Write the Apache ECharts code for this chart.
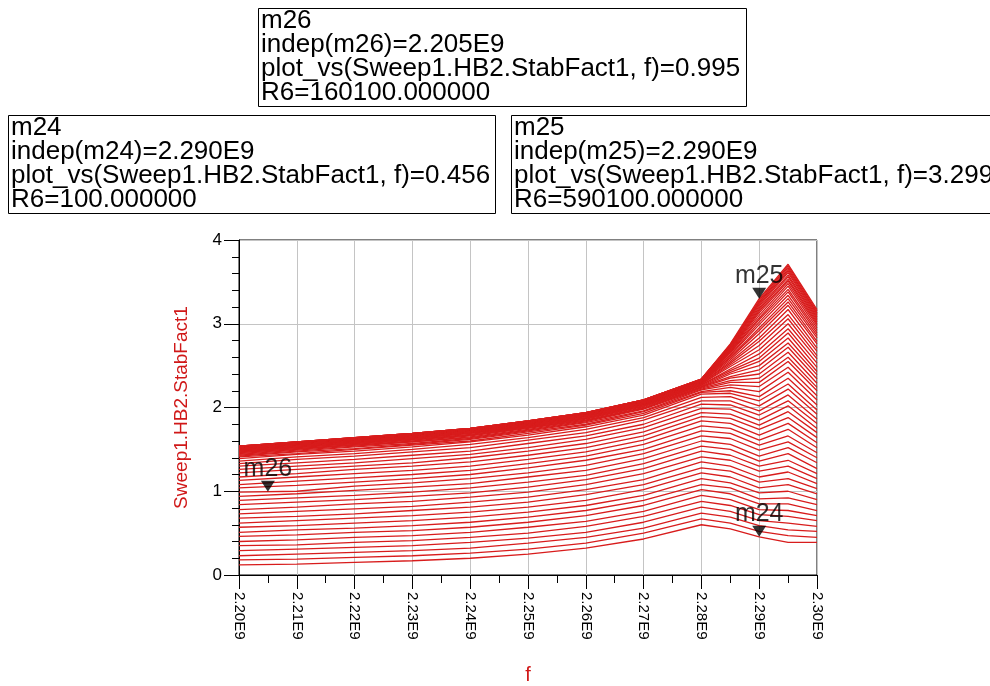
<!DOCTYPE html>
<html>
<head>
<meta charset="utf-8">
<script src="https://cdn.jsdelivr.net/npm/echarts@6/dist/echarts.min.js"></script>
<style>
  html, body { margin: 0; padding: 0; background: #fff; }
  #chart { width: 990px; height: 686px; }
</style>
</head>
<body>
<div id="chart"></div>
<script>
// Frequency points of the harmonic-balance sweep (Hz)
const freqHz = [2.20e9, 2.21e9, 2.22e9, 2.23e9, 2.24e9, 2.25e9, 2.26e9, 2.27e9, 2.28e9, 2.285e9, 2.29e9, 2.295e9, 2.30e9];

// Swept resistor R6 (ohm), one curve per value
const r6Values = [
  100, 10100, 20100, 30100, 40100, 50100, 60100, 70100, 80100, 90100,
  100100, 110100, 120100, 130100, 140100, 150100, 160100, 170100, 180100, 190100,
  200100, 210100, 220100, 230100, 240100, 250100, 260100, 270100, 280100, 290100,
  300100, 310100, 320100, 330100, 340100, 350100, 360100, 370100, 380100, 390100,
  400100, 410100, 420100, 430100, 440100, 450100, 460100, 470100, 480100, 490100,
  500100, 510100, 520100, 530100, 540100, 550100, 560100, 570100, 580100, 590100
];

// Sweep1.HB2.StabFact1 for each R6 (rows) at each frequency point (columns)
const stabFact = [
  [0.12,0.13,0.15,0.17,0.20,0.25,0.32,0.43,0.60,0.55,0.456,0.39,0.39],
  [0.18,0.19,0.21,0.23,0.26,0.31,0.38,0.50,0.67,0.62,0.52,0.47,0.45],
  [0.23,0.25,0.27,0.29,0.32,0.38,0.45,0.56,0.74,0.69,0.59,0.54,0.52],
  [0.29,0.31,0.33,0.35,0.39,0.44,0.51,0.63,0.81,0.76,0.65,0.62,0.58],
  [0.35,0.36,0.39,0.41,0.45,0.50,0.58,0.70,0.88,0.83,0.72,0.70,0.65],
  [0.40,0.42,0.45,0.47,0.51,0.57,0.64,0.76,0.95,0.90,0.78,0.77,0.71],
  [0.46,0.48,0.51,0.53,0.57,0.63,0.71,0.83,1.02,0.97,0.85,0.85,0.77],
  [0.51,0.54,0.56,0.59,0.63,0.69,0.77,0.89,1.08,1.04,0.91,0.92,0.84],
  [0.57,0.59,0.62,0.65,0.69,0.75,0.83,0.95,1.15,1.10,0.98,1.00,0.90],
  [0.62,0.65,0.68,0.71,0.75,0.81,0.89,1.02,1.22,1.17,1.04,1.08,0.97],
  [0.68,0.70,0.73,0.77,0.81,0.87,0.96,1.08,1.28,1.24,1.11,1.15,1.03],
  [0.73,0.76,0.79,0.82,0.87,0.93,1.02,1.14,1.35,1.30,1.17,1.23,1.09],
  [0.78,0.81,0.85,0.88,0.93,0.99,1.08,1.21,1.41,1.37,1.24,1.30,1.15],
  [0.84,0.87,0.90,0.94,0.98,1.05,1.14,1.27,1.48,1.43,1.30,1.37,1.21],
  [0.89,0.92,0.95,0.99,1.04,1.11,1.19,1.33,1.54,1.50,1.36,1.45,1.27],
  [0.94,0.97,1.01,1.05,1.09,1.17,1.25,1.39,1.60,1.56,1.42,1.52,1.34],
  [0.99,1.00,1.06,1.10,1.15,1.22,1.31,1.45,1.66,1.63,1.49,1.59,1.40],
  [1.04,1.07,1.11,1.15,1.20,1.28,1.37,1.50,1.72,1.69,1.55,1.66,1.46],
  [1.08,1.12,1.16,1.20,1.25,1.33,1.42,1.56,1.78,1.75,1.61,1.74,1.52],
  [1.13,1.17,1.21,1.25,1.30,1.38,1.47,1.61,1.84,1.81,1.67,1.81,1.58],
  [1.17,1.21,1.26,1.30,1.35,1.43,1.52,1.66,1.89,1.87,1.74,1.88,1.64],
  [1.22,1.26,1.30,1.34,1.40,1.48,1.57,1.71,1.94,1.92,1.79,1.95,1.70],
  [1.26,1.30,1.34,1.39,1.44,1.52,1.62,1.76,1.99,1.98,1.85,2.02,1.75],
  [1.30,1.34,1.38,1.43,1.48,1.57,1.66,1.80,2.04,2.03,1.91,2.08,1.81],
  [1.33,1.38,1.42,1.47,1.52,1.61,1.70,1.85,2.08,2.08,1.96,2.15,1.86],
  [1.36,1.41,1.45,1.50,1.56,1.64,1.74,1.88,2.12,2.13,2.02,2.22,1.92],
  [1.39,1.44,1.48,1.53,1.59,1.67,1.77,1.91,2.16,2.17,2.08,2.28,1.97],
  [1.41,1.45,1.50,1.55,1.60,1.69,1.79,1.93,2.18,2.20,2.13,2.35,2.03],
  [1.42,1.47,1.51,1.56,1.62,1.71,1.80,1.95,2.19,2.24,2.19,2.42,2.09],
  [1.43,1.48,1.53,1.57,1.63,1.72,1.82,1.96,2.21,2.27,2.25,2.48,2.14],
  [1.44,1.49,1.54,1.59,1.64,1.73,1.83,1.98,2.22,2.30,2.30,2.55,2.20],
  [1.45,1.50,1.55,1.59,1.65,1.74,1.84,1.99,2.23,2.32,2.35,2.60,2.24],
  [1.46,1.51,1.55,1.60,1.66,1.75,1.85,1.99,2.24,2.35,2.40,2.66,2.29],
  [1.46,1.51,1.56,1.61,1.67,1.76,1.85,2.00,2.25,2.37,2.45,2.72,2.34],
  [1.47,1.52,1.57,1.62,1.67,1.76,1.86,2.01,2.25,2.40,2.50,2.77,2.39],
  [1.48,1.52,1.57,1.62,1.68,1.77,1.87,2.02,2.26,2.42,2.55,2.83,2.43],
  [1.48,1.53,1.58,1.63,1.69,1.77,1.87,2.02,2.27,2.44,2.59,2.89,2.48],
  [1.49,1.53,1.58,1.63,1.69,1.78,1.88,2.03,2.27,2.46,2.64,2.94,2.53],
  [1.49,1.54,1.59,1.64,1.70,1.78,1.88,2.03,2.28,2.49,2.69,3.00,2.58],
  [1.49,1.54,1.59,1.64,1.70,1.79,1.89,2.04,2.28,2.51,2.74,3.06,2.62],
  [1.50,1.55,1.60,1.65,1.71,1.79,1.89,2.04,2.29,2.53,2.79,3.11,2.67],
  [1.50,1.55,1.60,1.65,1.71,1.80,1.90,2.05,2.29,2.55,2.83,3.17,2.71],
  [1.51,1.55,1.60,1.65,1.71,1.80,1.90,2.05,2.30,2.57,2.88,3.22,2.76],
  [1.51,1.56,1.61,1.66,1.72,1.81,1.90,2.05,2.30,2.59,2.92,3.26,2.79],
  [1.51,1.56,1.61,1.66,1.72,1.81,1.91,2.06,2.31,2.60,2.95,3.30,2.83],
  [1.51,1.56,1.61,1.66,1.72,1.81,1.91,2.06,2.31,2.62,2.99,3.34,2.86],
  [1.52,1.57,1.62,1.67,1.73,1.81,1.91,2.06,2.31,2.63,3.02,3.38,2.89],
  [1.52,1.57,1.62,1.67,1.73,1.82,1.92,2.07,2.32,2.65,3.05,3.41,2.92],
  [1.52,1.57,1.62,1.67,1.73,1.82,1.92,2.07,2.32,2.66,3.07,3.45,2.95],
  [1.53,1.58,1.63,1.67,1.73,1.82,1.92,2.07,2.32,2.67,3.10,3.48,2.98],
  [1.53,1.58,1.63,1.68,1.74,1.83,1.93,2.08,2.33,2.68,3.13,3.51,3.00],
  [1.53,1.58,1.63,1.68,1.74,1.83,1.93,2.08,2.33,2.69,3.15,3.53,3.02],
  [1.53,1.58,1.63,1.68,1.74,1.83,1.93,2.08,2.33,2.70,3.17,3.56,3.04],
  [1.53,1.58,1.63,1.68,1.74,1.83,1.93,2.08,2.33,2.71,3.19,3.58,3.06],
  [1.53,1.58,1.63,1.68,1.74,1.83,1.93,2.08,2.33,2.72,3.21,3.61,3.08],
  [1.54,1.59,1.64,1.69,1.75,1.84,1.94,2.09,2.33,2.73,3.23,3.63,3.10],
  [1.54,1.59,1.64,1.69,1.75,1.84,1.94,2.09,2.34,2.74,3.25,3.65,3.12],
  [1.54,1.59,1.64,1.69,1.75,1.84,1.94,2.09,2.34,2.74,3.26,3.67,3.13],
  [1.54,1.59,1.64,1.69,1.75,1.84,1.94,2.09,2.34,2.75,3.28,3.69,3.15],
  [1.54,1.59,1.64,1.69,1.75,1.84,1.94,2.09,2.34,2.76,3.299,3.71,3.17]
];

// Markers placed on the traces
const markerNames = ['m24', 'm25', 'm26'];
const markerFreq = [2.290e9, 2.290e9, 2.205e9];
const markerValue = [0.456, 3.299, 0.995];
const markerR6 = [100, 590100, 160100];

// Axis ticks
const xTickMin = 2.20e9, xTickMax = 2.30e9, xTickStep = 0.01e9;
const yTickMin = 0, yTickMax = 4, yTickStep = 1;

const TRACE_RED = '#d81c1c';
const AXIS_RED = '#d01818';
const FONT = '"Liberation Sans", Arial, sans-serif';

const traceSeries = stabFact.map((row, i) => ({
  type: 'line',
  name: 'R6=' + r6Values[i],
  data: row.map((v, j) => [freqHz[j], v]),
  showSymbol: false,
  symbol: 'none',
  silent: true,
  lineStyle: { color: TRACE_RED, width: 1.3 },
  z: 2
}));

// Downward triangle whose tip sits on the marked point, name above it
const markerSeries = {
  type: 'scatter',
  data: markerNames.map((n, k) => ({ name: n, value: [markerFreq[k], markerValue[k]] })),
  symbol: 'triangle',
  symbolSize: [14, 11],
  symbolRotate: 180,
  symbolOffset: [0, -5.5],
  itemStyle: { color: '#000' },
  label: {
    show: true, position: 'top', distance: 0, offset: [0, 1],
    formatter: '{b}', color: '#000',
    fontFamily: FONT, fontSize: 25
  },
  silent: true,
  z: 10
};

// Marker readout boxes
function readoutLines(k) {
  return [
    markerNames[k],
    'indep(' + markerNames[k] + ')=' + (markerFreq[k] / 1e9).toFixed(3) + 'E9',
    'plot_vs(Sweep1.HB2.StabFact1, f)=' + markerValue[k].toFixed(3),
    'R6=' + markerR6[k].toFixed(6)
  ].join('\n');
}
const boxes = [
  { k: 2, x: 258, y: 8, w: 488 },
  { k: 0, x: 8, y: 115, w: 487 },
  { k: 1, x: 511, y: 115, w: 520 }
];
const graphics = [];
boxes.forEach(b => {
  graphics.push({
    type: 'rect', silent: true,
    shape: { x: b.x + 0.5, y: b.y + 0.5, width: b.w, height: 98 },
    style: { fill: '#fff', stroke: '#000', lineWidth: 1 }
  });
  graphics.push({
    type: 'text', silent: true, x: b.x + 3, y: b.y + 1,
    style: {
      text: readoutLines(b.k), fill: '#000',
      font: '26px ' + FONT, lineHeight: 24,
      verticalAlign: 'top'
    }
  });
});

const chart = echarts.init(document.getElementById('chart'), null, { renderer: 'canvas' });
chart.setOption({
  animation: false,
  backgroundColor: '#fff',
  grid: { left: 239, right: 173, top: 240, bottom: 106, show: true, borderColor: '#000', borderWidth: 1, backgroundColor: 'transparent' },
  xAxis: {
    type: 'value', min: xTickMin, max: xTickMax, interval: xTickStep,
    name: 'f', nameLocation: 'middle', nameGap: 90,
    nameTextStyle: { color: AXIS_RED, fontFamily: FONT, fontSize: 20 },
    axisLine: { show: true, lineStyle: { color: '#000', width: 1 } },
    axisTick: { show: true, length: 14, lineStyle: { color: '#000' } },
    minorTick: { show: true, splitNumber: 2, length: 8, lineStyle: { color: '#000' } },
    splitLine: { show: true, lineStyle: { color: '#c4c4c4', width: 1 } },
    axisLabel: {
      rotate: -90, margin: 17, color: '#000', fontFamily: FONT, fontSize: 15,
      formatter: v => (v / 1e9).toFixed(2) + 'E9'
    }
  },
  yAxis: {
    type: 'value', min: yTickMin, max: yTickMax, interval: yTickStep,
    name: 'Sweep1.HB2.StabFact1', nameLocation: 'middle', nameGap: 48,
    nameTextStyle: { color: AXIS_RED, fontFamily: FONT, fontSize: 19 },
    axisLine: { show: true, lineStyle: { color: '#000', width: 1 } },
    axisTick: { show: true, length: 15, lineStyle: { color: '#000' } },
    minorTick: { show: true, splitNumber: 5, length: 7, lineStyle: { color: '#000' } },
    splitLine: { show: true, lineStyle: { color: '#c4c4c4', width: 1 } },
    axisLabel: { margin: 17, color: '#000', fontFamily: FONT, fontSize: 17 }
  },
  graphic: graphics,
  series: traceSeries.concat([markerSeries])
});
</script>
</body>
</html>
